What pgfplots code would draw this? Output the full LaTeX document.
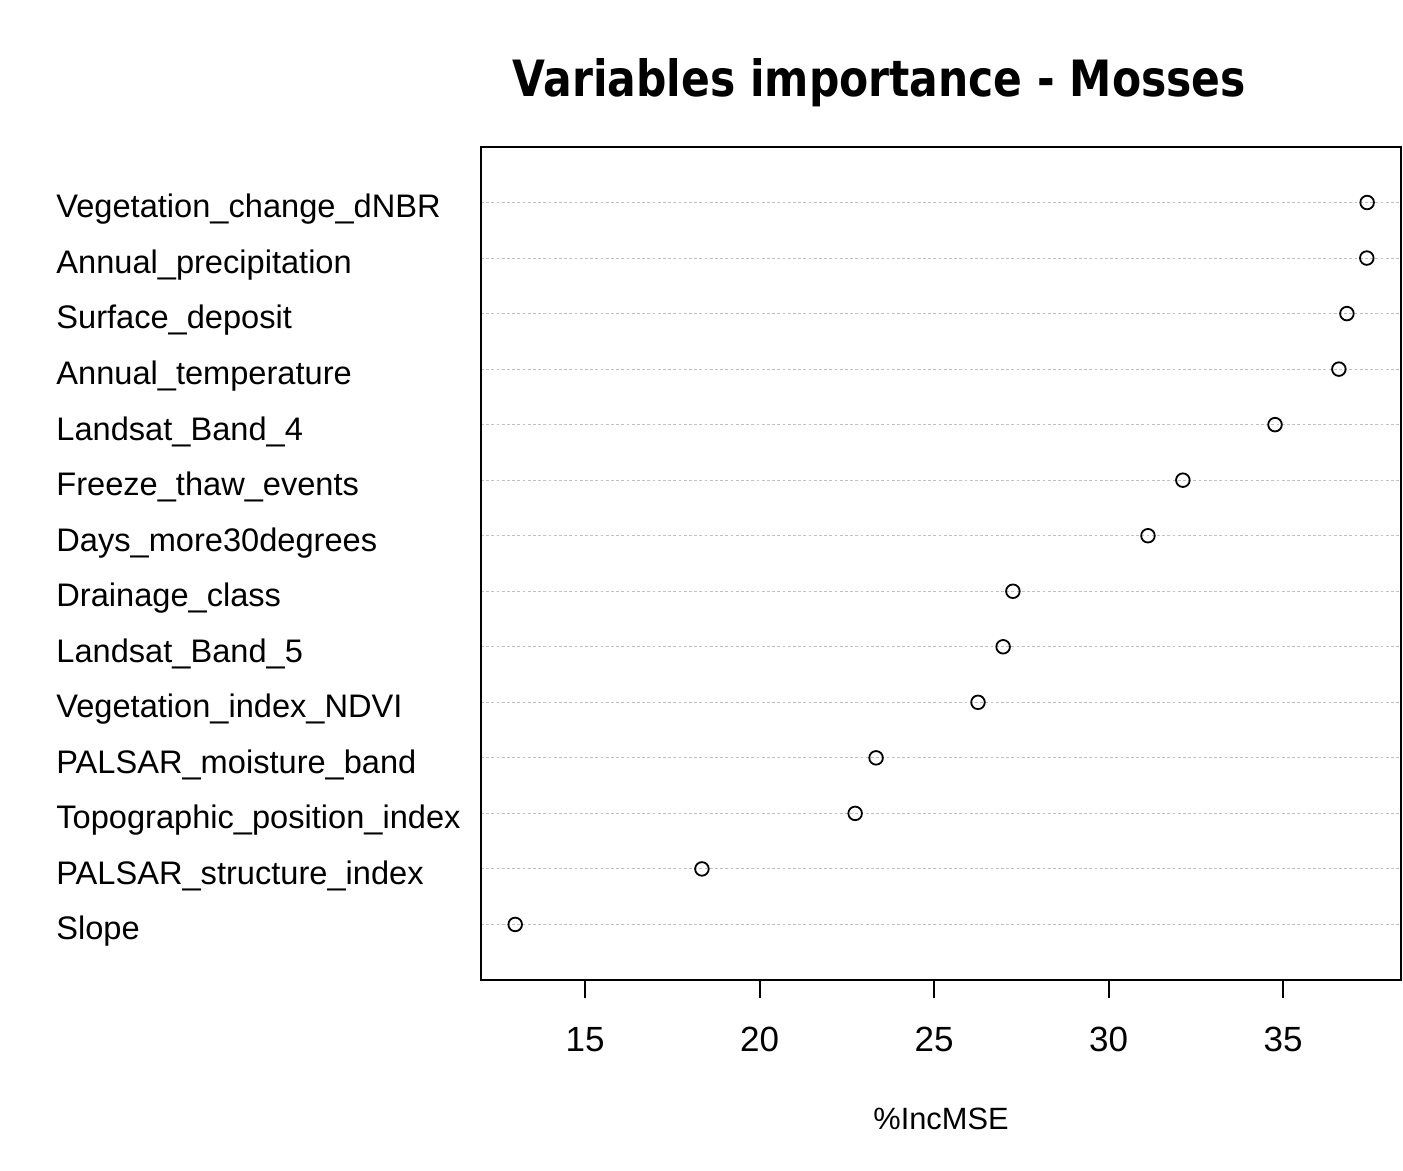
\documentclass[border=0pt]{standalone}
\usepackage{pgfplots}
\pgfplotsset{compat=1.18}
\usepackage{fontspec}
\setmainfont{Liberation Sans}
\newfontfamily\titlefont{DejaVu Sans}
\begin{document}
\begin{tikzpicture}
\useasboundingbox (0,0) rectangle (701.5pt,585.5pt);
\begin{axis}[
  scale only axis,
  width=460pt, height=416.5pt,
  at={(240.5pt,95.5pt)}, anchor=south west,
  xmin=12.02, xmax=38.38, ymin=0, ymax=15,
  xtick={15,20,25,30,35},
  ytick={1,...,14},
  yticklabels={Slope,PALSAR\_structure\_index,Topographic\_position\_index,PALSAR\_moisture\_band,Vegetation\_index\_NDVI,Landsat\_Band\_5,Drainage\_class,Days\_more30degrees,Freeze\_thaw\_events,Landsat\_Band\_4,Annual\_temperature,Surface\_deposit,Annual\_precipitation,Vegetation\_change\_dNBR},
  xtick pos=bottom,
  tick align=outside,
  major tick length=9pt,
  ytick style={draw=none},
  xtick style={line width=1pt, black},
  axis line style={line width=1pt},
  /pgf/number format/assume math mode=true,
  xticklabel style={font=\fontsize{17.5pt}{20pt}\selectfont, anchor=north, inner sep=0pt, yshift=-14.5pt},
  yticklabel style={font=\fontsize{16.3pt}{19pt}\selectfont, anchor=base west, inner sep=0pt, xshift=-203.5pt, yshift=-7.7pt},
  ymajorgrids,
  major grid style={line width=0.5pt, color=black!25, dash pattern=on 1.4pt off 1.2pt},
  xlabel={\%IncMSE},
  every axis x label/.style={at={(axis description cs:0.5,0)}, anchor=north, inner sep=0pt, yshift=-64pt, font=\fontsize{15.4pt}{18pt}\selectfont},
]
\addplot[only marks, mark=o, mark size=3.4pt, mark options={line width=0.9pt, black}] coordinates {
(13.00,1) (18.35,2) (22.74,3) (23.34,4) (26.26,5) (26.98,6) (27.26,7)
(31.13,8) (32.13,9) (34.77,10) (36.60,11) (36.83,12) (37.40,13) (37.41,14)
};
\end{axis}
\node[anchor=base, inner sep=0pt] at (439.75pt,537pt) {\resizebox{366.5pt}{19pt}{\titlefont\bfseries Variables importance - Mosses}};
\end{tikzpicture}
\end{document}
